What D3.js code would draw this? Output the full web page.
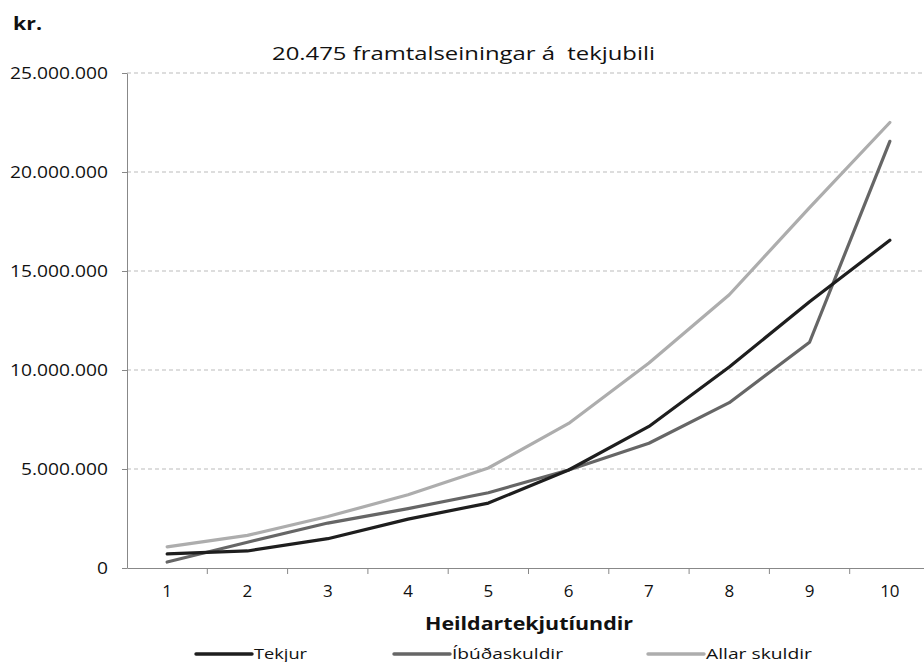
<!DOCTYPE html>
<meta charset="utf-8">
<style>
body { margin: 0; background: #fff; }
text { font-family: "Open Sans", sans-serif; fill: #111; }
.grid line { stroke: #bbb; stroke-dasharray: 4,3; }
.axis path, .axis line { stroke: #888; }
.axis text { font-family: "Open Sans", sans-serif; font-size: 17px; fill: #111; }
</style>
<svg width="924" height="662" id="chart"></svg>
<script src="https://cdnjs.cloudflare.com/ajax/libs/d3/7.8.5/d3.min.js"></script>
<script>
var categories = ["1", "2", "3", "4", "5", "6", "7", "8", "9", "10"];
var tekjur = [710000, 860000, 1480000, 2470000, 3280000, 4950000, 7150000, 10150000, 13450000, 16550000];
var ibudaskuldir = [300000, 1300000, 2270000, 3000000, 3800000, 4950000, 6300000, 8350000, 11400000, 21550000];
var allarSkuldir = [1070000, 1650000, 2600000, 3700000, 5050000, 7300000, 10350000, 13800000, 18200000, 22500000];
var yTicks = [0, 5000000, 10000000, 15000000, 20000000, 25000000];
var seriesNames = ["Tekjur", "Íbúðaskuldir", "Allar skuldir"];

var series = [
  { name: seriesNames[0], values: tekjur, color: "#1e1e1e" },
  { name: seriesNames[1], values: ibudaskuldir, color: "#666" },
  { name: seriesNames[2], values: allarSkuldir, color: "#adadad" }
];

var svg = d3.select("#chart");
var mLeft = 127, mRight = 930, mTop = 73, mBottom = 568;

var x = d3.scaleBand().domain(categories).range([mLeft, mRight]);
var y = d3.scaleLinear().domain([0, 25000000]).range([mBottom, mTop]);

function fmt(v) { return d3.format(",")(v).replace(/,/g, "."); }

// stretch text horizontally like the original (wide rendering)
function widen(sel, k) {
  sel.each(function() {
    var w = this.getComputedTextLength();
    d3.select(this).attr("textLength", w * k).attr("lengthAdjust", "spacingAndGlyphs");
  });
}

// gridlines
svg.append("g").attr("class", "grid")
  .selectAll("line").data(yTicks.slice(1)).enter().append("line")
  .attr("x1", mLeft).attr("x2", 924)
  .attr("y1", function(d) { return y(d); }).attr("y2", function(d) { return y(d); });

// y axis
var yAxis = svg.append("g").attr("class", "axis")
  .attr("transform", "translate(" + mLeft + ",0)")
  .call(d3.axisLeft(y).tickValues(yTicks).tickFormat(fmt).tickSize(5).tickSizeOuter(0));
yAxis.selectAll("text").attr("x", -19).attr("dy", "0.35em");
widen(yAxis.selectAll("text"), 1.13);

// x axis
var xAxis = svg.append("g").attr("class", "axis")
  .attr("transform", "translate(0," + mBottom + ")")
  .call(d3.axisBottom(x).tickSize(0).tickSizeOuter(0));
xAxis.selectAll("text").attr("y", 29).attr("dy", 0);
xAxis.selectAll(".sep").data(categories).enter().append("line")
  .attr("class", "sep")
  .attr("x1", function(d) { return x(d) + x.bandwidth(); })
  .attr("x2", function(d) { return x(d) + x.bandwidth(); })
  .attr("y1", 0).attr("y2", 6);

// lines
var line = d3.line()
  .x(function(d, i) { return x(categories[i]) + x.bandwidth() / 2; })
  .y(function(d) { return y(d); });

svg.selectAll(".series").data(series.slice().reverse()).enter().append("path")
  .attr("class", "series")
  .attr("fill", "none")
  .attr("stroke", function(d) { return d.color; })
  .attr("stroke-width", 3.2)
  .attr("stroke-linejoin", "round")
  .attr("stroke-linecap", "round")
  .attr("d", function(d) { return line(d.values); });

// titles
svg.append("text").attr("x", 13).attr("y", 30)
  .style("font-size", "17px").style("font-weight", "bold")
  .attr("textLength", 29).attr("lengthAdjust", "spacingAndGlyphs").text("kr.");
svg.append("text").attr("x", 272).attr("y", 60)
  .style("font-size", "19px").style("white-space", "pre")
  .attr("textLength", 383).attr("lengthAdjust", "spacingAndGlyphs")
  .text("20.475 framtalseiningar á  tekjubili");
svg.append("text").attr("x", 425).attr("y", 630)
  .style("font-size", "18px").style("font-weight", "bold")
  .attr("textLength", 208).attr("lengthAdjust", "spacingAndGlyphs")
  .text("Heildartekjutíundir");

// legend
var legendX = [195, 393, 647];
var legendW = [53, 111, 106];
var lg = svg.selectAll(".legend").data(series).enter().append("g")
  .attr("class", "legend")
  .attr("transform", function(d, i) { return "translate(" + legendX[i] + ",654)"; });
lg.append("line").attr("x1", 1).attr("x2", 57).attr("y1", 0).attr("y2", 0)
  .attr("stroke", function(d) { return d.color; }).attr("stroke-width", 3.4)
  .attr("stroke-linecap", "round");
lg.append("text").attr("x", 59).attr("y", 4.5).style("font-size", "15px")
  .attr("textLength", function(d, i) { return legendW[i]; })
  .attr("lengthAdjust", "spacingAndGlyphs")
  .text(function(d) { return d.name; });
</script>
